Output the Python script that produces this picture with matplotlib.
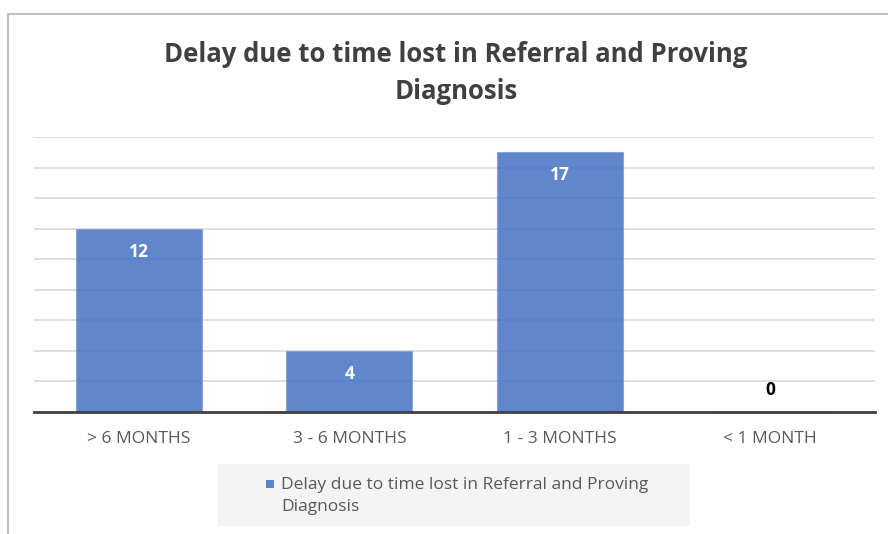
import matplotlib
matplotlib.use("Agg")
import matplotlib.pyplot as plt
from matplotlib.patches import Rectangle

categories = ["> 6 MONTHS", "3 - 6 MONTHS", "1 - 3 MONTHS", "< 1 MONTH"]
values = [12, 4, 17, 0]
series_name = "Delay due to time lost in Referral and Proving\nDiagnosis"
title = "Delay due to time lost in Referral and Proving\nDiagnosis"

fig = plt.figure(figsize=(8.88, 5.34), dpi=100)
fig.patch.set_facecolor("white")

# outer frame (partially visible)
fig.add_artist(Rectangle((8/888, -0.05), 1.2, 1 - 14/534 + 0.05, transform=fig.transFigure,
                         fill=False, edgecolor="#c0c0c0", linewidth=1.5))

ax = fig.add_axes([34/888, (534-412)/534, 841/888, 275/534])
x = list(range(len(categories)))
ax.bar(x, values, width=0.6, color="#4472c4", alpha=0.85, edgecolor="#7f9fd6",
       linewidth=0.8, zorder=2)
ax.set_xlim(-0.5, 3.5)
ax.set_ylim(0, 18)
ax.set_yticks(range(0, 19, 2))
ax.yaxis.grid(True, color="#d9d9d9", linewidth=1.2, zorder=0)
ax.set_axisbelow(True)
ax.tick_params(axis="y", left=False, labelleft=False)
ax.tick_params(axis="x", bottom=False, labelsize=12.5, colors="#595959", pad=10)
ax.set_xticks(x)
ax.set_xticklabels(categories, family="Open Sans")
for s in ["top", "right", "left"]:
    ax.spines[s].set_visible(False)
ax.spines["bottom"].set_color("#404040")
ax.spines["bottom"].set_linewidth(2)

for xi, v in zip(x, values):
    if v > 1:
        ax.annotate(str(v), (xi, v), xytext=(0, -23), textcoords="offset pixels",
                    ha="center", va="center", color="white", fontsize=12.5, fontweight="bold", family="Open Sans")
    else:
        ax.annotate(str(v), (xi, v), xytext=(0, 22), textcoords="offset pixels",
                    ha="center", va="center", color="black", fontsize=12.5, fontweight="bold", family="Open Sans")

fig.text(456/888, 1 - 73/534, title, ha="center", va="center", fontsize=18.5, fontweight="bold",
         color="#404040", family="Open Sans", linespacing=1.5)

# legend box
fig.add_artist(Rectangle((218/888, (534-526)/534), 472/888, 62/534, transform=fig.transFigure,
                         facecolor="#f4f4f4", edgecolor="none"))
fig.add_artist(Rectangle((266/888, (534-488)/534), 8/888, 8/534, transform=fig.transFigure,
                         facecolor="#4472c4", alpha=0.85, edgecolor="none"))
fig.text(281/888, 1 - 496/534, series_name, ha="left", va="center", fontsize=12.5,
         color="#595959", family="Open Sans", linespacing=1.5)

fig.savefig("out.png", dpi=100)
